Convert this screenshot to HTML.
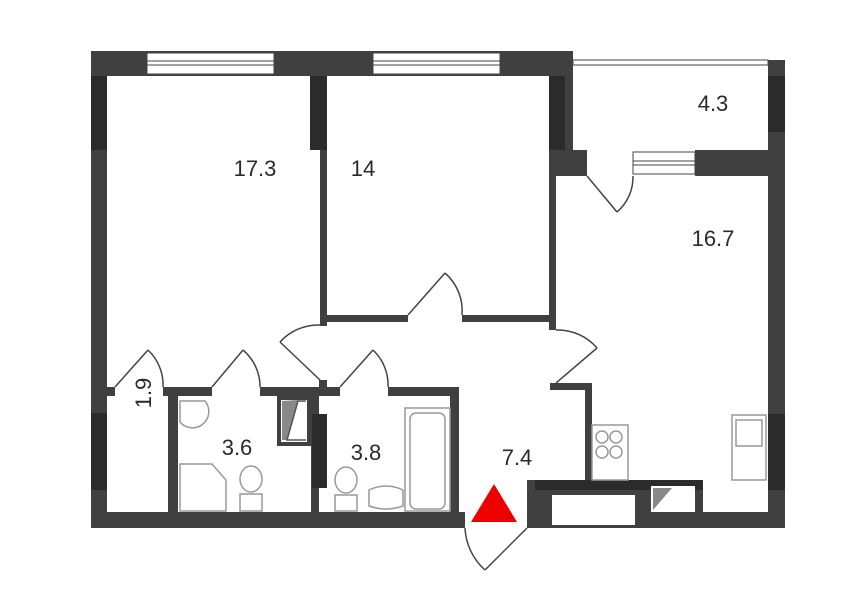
<!DOCTYPE html>
<html><head><meta charset="utf-8"><style>
html,body{margin:0;padding:0;background:#fff;width:855px;height:604px;overflow:hidden}
svg{display:block}
text{font-family:"Liberation Sans",sans-serif;fill:#2a2a2a}
</style></head><body>
<svg width="855" height="604" viewBox="0 0 855 604" xmlns="http://www.w3.org/2000/svg">
<g fill="#404040">
<rect x="91" y="51" width="482" height="25"/>
<rect x="91" y="51" width="16" height="477"/>
<rect x="91" y="512" width="374" height="16"/>
<rect x="320" y="76" width="7" height="250"/>
<rect x="549" y="51" width="24" height="99"/>
<rect x="549" y="150" width="38" height="26"/>
<rect x="549" y="150" width="7" height="180"/>
<rect x="327" y="315" width="81" height="7"/>
<rect x="462" y="315" width="87" height="7"/>
<rect x="768" y="60" width="17" height="468"/>
<rect x="695" y="150" width="90" height="26"/>
<rect x="550" y="383" width="42" height="7"/>
<rect x="585" y="383" width="7" height="97"/>
<rect x="527" y="480" width="176" height="48"/>
<rect x="703" y="512" width="82" height="16"/>
<rect x="107" y="387" width="8" height="9"/>
<rect x="163" y="387" width="49" height="9"/>
<rect x="168" y="387" width="10" height="125"/>
<rect x="260" y="387" width="60" height="9"/>
<rect x="277" y="396" width="34" height="50"/>
<rect x="311" y="387" width="8" height="125"/>
<rect x="319" y="380" width="8" height="16"/>
<rect x="319" y="387" width="21" height="9"/>
<rect x="388" y="387" width="71" height="9"/>
<rect x="450" y="387" width="9" height="125"/>
</g>
<g fill="#2b2b2b">
<rect x="91" y="76" width="16" height="74"/>
<rect x="310" y="76" width="17" height="74"/>
<rect x="549" y="76" width="16" height="74"/>
<rect x="91" y="413" width="16" height="77"/>
<rect x="312" y="414" width="15" height="74"/>
<rect x="768" y="76" width="17" height="56"/>
<rect x="768" y="414" width="17" height="76"/>
<rect x="535" y="480" width="168" height="10"/>
</g>
<rect x="552" y="495" width="83" height="30" fill="#fff"/>
<rect x="281" y="400" width="26" height="42" fill="#fff"/>
<polygon points="282,401 298,400 287,440 282,440" fill="#888"/>
<polyline points="306,401 298,401 287,440 306,440" fill="none" stroke="#555" stroke-width="1.5"/>
<rect x="651" y="486" width="44" height="26" fill="#fff"/>
<polygon points="653,488 672,488 653,510" fill="#888"/>
<g fill="#fff" stroke="#444" stroke-width="1">
<rect x="147" y="53" width="127" height="21"/>
<rect x="373" y="53" width="127" height="21"/>
<rect x="633" y="152" width="62" height="22"/>
<rect x="573" y="60" width="195" height="5"/>
</g>
<g stroke="#444" stroke-width="1">
<line x1="147" y1="61" x2="274" y2="61"/><line x1="147" y1="65" x2="274" y2="65"/>
<line x1="373" y1="61" x2="500" y2="61"/><line x1="373" y1="65" x2="500" y2="65"/>
<line x1="633" y1="161" x2="695" y2="161"/><line x1="633" y1="165" x2="695" y2="165"/>
</g>
<g fill="none" stroke="#444" stroke-width="1.5">
<line x1="408" y1="315" x2="445" y2="273"/><path d="M445,273 A50,50 0 0 1 462,315"/>
<line x1="587" y1="176" x2="617" y2="212"/><path d="M617,212 A46,46 0 0 0 633,176"/>
<line x1="556" y1="383" x2="597" y2="348"/><path d="M597,348 A52,52 0 0 0 556,330"/>
<line x1="320" y1="380" x2="280" y2="342"/><path d="M280,342 A52,52 0 0 1 320,325"/>
<line x1="115" y1="387" x2="148" y2="350"/><path d="M148,350 A48,48 0 0 1 163,387"/>
<line x1="212" y1="387" x2="243" y2="350"/><path d="M243,350 A48,48 0 0 1 260,387"/>
<line x1="340" y1="387" x2="373" y2="350"/><path d="M373,350 A48,48 0 0 1 388,387"/>
<line x1="527" y1="528" x2="485" y2="570"/><path d="M485,570 A60,60 0 0 1 465,528"/>
</g>
<g fill="none" stroke="#999" stroke-width="1.5">
<path d="M180,401 L205,401 A14,14 0 0 1 180,422 Z"/>
<path d="M180,464 L212,464 L226,480 L226,511 L180,511 Z"/>
<ellipse cx="251" cy="479" rx="11" ry="13"/><rect x="240" y="494" width="22" height="17"/>
<ellipse cx="346" cy="480" rx="11" ry="13"/><rect x="335" y="495" width="22" height="16"/>
<path d="M369,490 Q386,482 403,490 L403,506 Q386,512 369,506 Z"/>
<rect x="405" y="408" width="45" height="103"/>
<rect x="410" y="413" width="35" height="96" rx="6"/>
<rect x="592" y="425" width="36" height="55"/>
<circle cx="602" cy="437" r="6"/><circle cx="616" cy="437" r="6"/>
<circle cx="602" cy="452" r="6"/><circle cx="616" cy="452" r="6"/>
<rect x="732" y="415" width="34" height="65"/><rect x="736" y="420" width="26" height="26"/>
</g>
<g font-size="22">
<text x="255" y="176" text-anchor="middle">17.3</text>
<text x="363" y="176" text-anchor="middle">14</text>
<text x="713" y="111" text-anchor="middle">4.3</text>
<text x="713" y="246" text-anchor="middle">16.7</text>
<text x="237" y="455" text-anchor="middle">3.6</text>
<text x="366" y="460" text-anchor="middle">3.8</text>
<text x="517" y="465" text-anchor="middle">7.4</text>
<text x="143" y="401" text-anchor="middle" transform="rotate(-90 143 393)">1.9</text>
</g>
<polygon points="494,484 471,522 517,522" fill="#ee0000"/>
</svg>
</body></html>
